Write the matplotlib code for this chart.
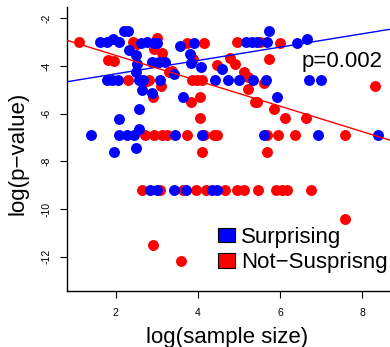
import matplotlib
matplotlib.use("Agg")
import matplotlib.pyplot as plt
from matplotlib.patches import Patch

plt.rcParams['font.family'] = ['Liberation Sans', 'DejaVu Sans']

# ---- data ----
blue_x = [1.61, 1.80, 1.94, 2.08, 2.20, 2.30, 2.33, 2.61, 2.49, 2.53, 2.49, 2.77, 2.92, 3.00,
          2.89, 3.05, 3.19, 1.78, 1.92, 2.06, 2.57, 2.67, 2.65, 3.09, 2.89, 2.57, 2.08,
          1.39, 2.07, 2.28, 2.45, 2.57, 3.45, 4.10, 5.60, 6.92, 8.39, 1.95, 2.50,
          2.84, 3.00, 3.43, 3.72, 4.34, 4.46, 3.57, 3.91, 3.81, 3.83, 4.07, 4.58,
          4.42, 4.74, 4.99, 5.35, 5.66, 3.63, 5.92, 3.43, 5.72, 5.17, 5.31, 5.45,
          5.69, 6.41, 6.65, 6.71, 7.00]
blue_y = [-3.00, -3.00, -2.85, -3.00, -2.53, -2.53, -3.34, -3.05, -3.55, -3.90, -4.25, -3.00, -3.05, -3.05,
          -3.83, -3.83, -3.83, -4.60, -4.60, -4.60, -4.60, -4.60, -5.01, -4.60, -5.12, -5.81, -6.21,
          -6.90, -6.90, -6.90, -6.90, -6.66, -6.90, -6.90, -6.90, -6.90, -6.90, -7.59, -7.45,
          -9.20, -9.20, -9.20, -9.20, -9.20, -9.20, -3.17, -3.02, -3.48, -3.87, -4.06, -4.13,
          -4.60, -4.60, -4.60, -4.60, -4.60, -5.29, -5.29, -4.34, -2.53, -3.00, -3.00, -3.00,
          -3.00, -3.02, -2.88, -4.60, -4.60]

red_x = [1.10, 2.41, 2.51, 3.00, 2.93, 3.13, 1.82, 1.96, 2.77, 3.30, 2.30, 3.11, 2.91,
         2.72, 2.92, 3.13, 3.25, 3.73, 4.14, 4.38, 4.46, 5.68, 5.96, 6.37, 7.58,
         4.10, 5.69, 2.65, 3.08, 3.64, 3.96, 4.20, 4.65, 4.95, 5.13, 5.46, 5.90,
         6.04, 6.16, 6.75, 7.58, 2.90, 3.59, 3.73, 4.14, 3.88, 4.46, 4.77, 4.91,
         5.13, 5.21, 5.21, 3.86, 3.98, 4.10, 5.61, 3.83, 4.04, 4.04, 5.39, 5.45,
         5.84, 3.37, 4.95, 5.52, 6.00, 5.74, 8.31, 6.12, 6.62, 2.80]
red_y = [-3.00, -2.99, -3.09, -2.81, -3.27, -3.45, -3.73, -3.79, -4.62, -4.25, -4.60, -4.85, -5.32,
         -6.90, -6.90, -6.90, -6.90, -6.90, -6.90, -6.90, -6.90, -6.90, -6.90, -6.90, -6.90,
         -7.59, -7.59, -9.20, -9.20, -9.20, -9.20, -9.20, -9.20, -9.20, -9.20, -9.20, -9.20,
         -9.20, -9.20, -9.20, -10.41, -11.50, -12.20, -3.02, -3.02, -3.69, -3.97, -3.65, -3.90,
         -4.25, -4.46, -4.97, -4.60, -4.60, -4.60, -4.71, -5.50, -5.29, -6.20, -5.50, -5.50,
         -5.82, -4.20, -3.00, -3.00, -3.02, -3.69, -4.85, -6.20, -6.20, -4.60]

# fitted lines: [intercept, slope]
blue_fit = [-4.89, 0.28]
red_fit = [-2.49, -0.533]

x_ticks = [2, 4, 6, 8]
y_ticks = [-2, -4, -6, -8, -10, -12]
legend_labels = ["Surprising", "Not\u2212Susprisng"]
annot = "p=0.002"

# ---- figure ----
W, H = 390, 347
fig = plt.figure(figsize=(W / 100, H / 100), dpi=100)
ax = fig.add_axes([66.7 / W, (H - 291) / H, (W - 66.7) / W, (291 - 7.3) / H])

ax.scatter(red_x, red_y, s=62, color="#ff0000", linewidths=0, zorder=2)
ax.scatter(blue_x, blue_y, s=62, color="#0000ff", linewidths=0, zorder=3)

ax.axline((0, blue_fit[0]), slope=blue_fit[1], color="#0000ff", lw=1.0, zorder=4)
ax.axline((0, red_fit[0]), slope=red_fit[1], color="#ff0000", lw=1.0, zorder=4)

ax.set_xlim(0.808, 8.674)
ax.set_ylim(-13.44, -1.539)

for s in ["top", "right"]:
    ax.spines[s].set_visible(False)
for s in ["left", "bottom"]:
    ax.spines[s].set_linewidth(1.0)
    ax.spines[s].set_color("black")

ax.set_xticks(x_ticks)
ax.set_yticks(y_ticks)
ax.set_xticklabels([str(v) for v in x_ticks])
ax.set_yticklabels([str(v) for v in y_ticks])
ax.tick_params(axis="both", length=5, width=0.8, labelsize=7.5, color="black")
ax.tick_params(axis="x", pad=7)
ax.tick_params(axis="y", pad=6)
for lbl in ax.get_yticklabels():
    lbl.set_rotation(90)
    lbl.set_va("center")

ax.text(6.53, -3.83, annot, fontsize=16, ha="left", va="center", zorder=5)

handles = [Patch(facecolor="#0000ff", edgecolor="black", lw=0.8),
           Patch(facecolor="#ff0000", edgecolor="black", lw=0.8)]
fig.legend(handles, legend_labels, loc="center left",
           bbox_to_anchor=(218 / W, (H - 250) / H), frameon=False, fontsize=16,
           handlelength=0.78, handleheight=0.64, handletextpad=0.25,
           labelspacing=0.2, borderpad=0, borderaxespad=0)

fig.text(227 / W, (H - 337) / H, "log(sample size)", fontsize=16, ha="center", va="center")
fig.text(18 / W, (H - 153.5) / H, "log(p\u2212value)", fontsize=16, ha="center", va="center",
         rotation=90)

fig.savefig("out.png", dpi=100)
